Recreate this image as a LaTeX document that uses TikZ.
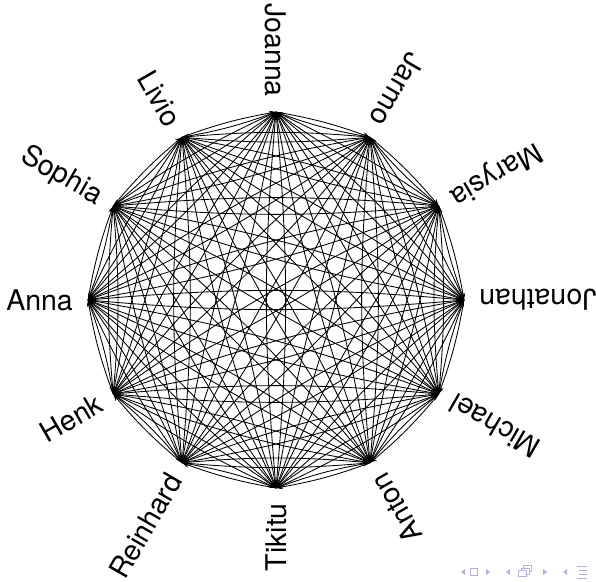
\documentclass[tikz,border=0pt]{standalone}
\usepackage{fontspec}
\setmainfont{TeX Gyre Heros}
\usetikzlibrary{arrows.meta}
\definecolor{navc}{RGB}{178,178,226}
\begin{document}
\begin{tikzpicture}[x=1pt,y=1pt,
  vert/.style={shape=coordinate},
  lab/.style={font=\fontsize{28.5}{31}\selectfont, inner sep=0pt, anchor=east},
  edgeline/.style={line width=0.85pt, -{Stealth[length=7pt,width=5pt]}, bend left=5},
  navfill/.style={fill=navc, draw=none},
  navline/.style={draw=navc, line width=0.9pt}]
\useasboundingbox (0,0) rectangle (596,581);
\foreach \i/\n in {0/Jonathan,1/Marysia,2/Jarmo,3/Joanna,4/Livio,5/Sophia,6/Anna,7/Henk,8/Reinhard,9/Tikitu,10/Anton,11/Michael}{
  \node[vert] (v\i) at ([shift={(30*\i:188)}]276,281) {};
  \node[lab, rotate=30*\i+180] (l\i) at ([shift={(30*\i:203)}]276,281) {\n};
}
\foreach \i in {0,...,11}{
  \foreach \j in {0,...,11}{
    \ifnum\i=\j\relax\else
      \draw[edgeline] (v\i) to (v\j);
    \fi
  }
}
% navigation symbols
\fill[navfill] (465,12) -- (461,9) -- (465,6) -- cycle;
\draw[navline] (470.5,5.5) rectangle (477.5,12.5);
\fill[navfill] (486,12) -- (490,9) -- (486,6) -- cycle;
\fill[navfill] (510,12) -- (506,9) -- (510,6) -- cycle;
\draw[navline] (518.5,4.5) rectangle (526.5,10.5);
\draw[navline] (521,10.5) -- (521,13) -- (529,13) -- (529,7) -- (526.5,7);
\draw[navline] (523.5,13) -- (523.5,15.5) -- (531.5,15.5) -- (531.5,9.5) -- (529,9.5);
\fill[navfill] (543,12) -- (547,9) -- (543,6) -- cycle;
\fill[navfill] (567,12) -- (563,9) -- (567,6) -- cycle;
\draw[navline] (577,15) -- (587,15);
\draw[navline] (579,11) -- (587,11);
\draw[navline] (579,7) -- (587,7);
\draw[navline] (577,3) -- (587,3);
\end{tikzpicture}
\end{document}
